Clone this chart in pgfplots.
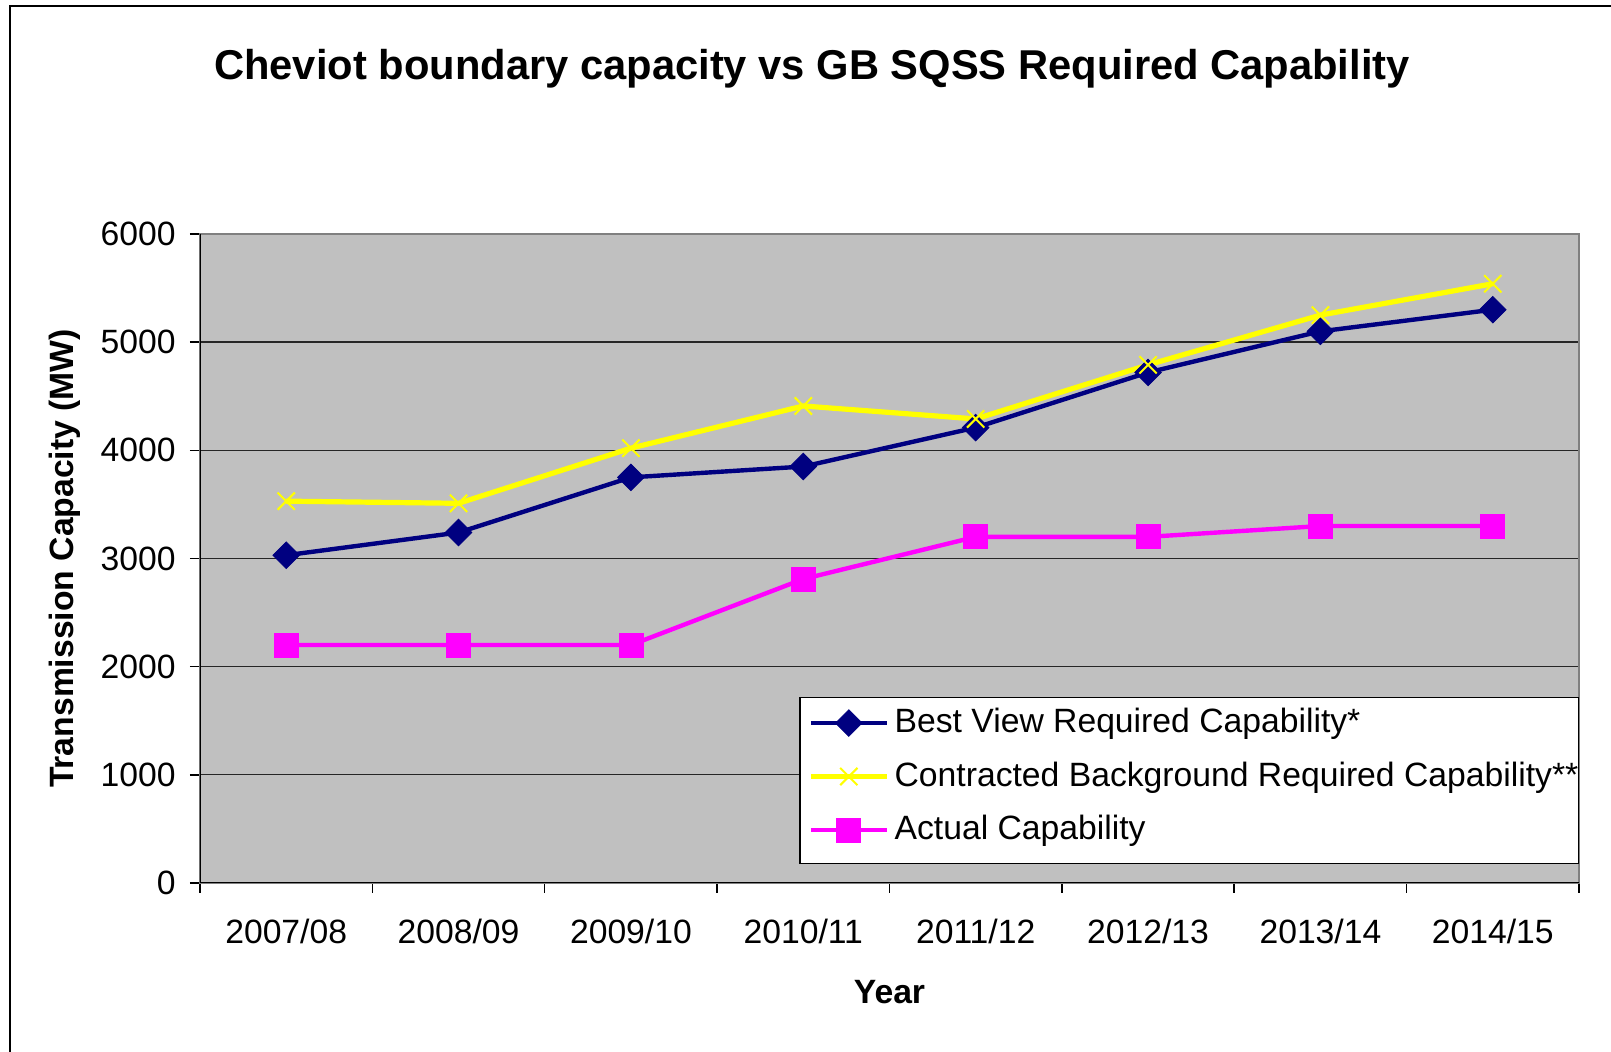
\documentclass[border=0pt]{standalone}
\usepackage{pgfplots}
\pgfplotsset{compat=1.18}
\usepackage{fontspec}
\setmainfont{Liberation Sans}
\definecolor{navyc}{HTML}{000080}
\definecolor{yel}{HTML}{FFFF00}
\definecolor{mag}{HTML}{FF00FF}
\definecolor{plotbg}{HTML}{C0C0C0}
\definecolor{bordergray}{HTML}{808080}
\begin{document}
\begin{tikzpicture}
\path[use as bounding box] (0,0) rectangle (805.5pt,526pt);
\draw[line width=1pt] (5pt,0) -- (5pt,523pt) -- (805.5pt,523pt);
\node[font=\fontsize{20.85}{24}\selectfont\bfseries] at (406pt,491.5pt) {Cheviot boundary capacity vs GB SQSS Required Capability};
\begin{axis}[
  at={(100pt,84.5pt)}, anchor=south west, scale only axis,
  width=689.5pt, height=324.5pt,
  xmin=-0.5, xmax=7.5, ymin=0, ymax=6000,
  xtick={-0.5,0.5,...,7.5},
  x tick label as interval,
  xticklabels={2007/08,2008/09,2009/10,2010/11,2011/12,2012/13,2013/14,2014/15},
  ytick={0,1000,...,6000},
  tick pos=left, tick align=outside,
  major tick length=5pt,
  tick style={black, line width=0.75pt},
  ymajorgrids, grid style={black!85, line width=0.65pt},
  axis background/.style={fill=plotbg},
  axis line style={bordergray, line width=1pt},
  scaled y ticks=false,
  /pgf/number format/assume math mode=true,
  /pgf/number format/1000 sep={},
  tick label style={font=\fontsize{16.85}{20}\selectfont},
  yticklabel style={anchor=east, inner sep=0pt, xshift=-7pt},
  xticklabel style={anchor=north, inner sep=0pt, yshift=-13pt},
  xlabel={Year}, ylabel={Transmission Capacity (MW)},
  every axis x label/.style={at={([yshift=-54.5pt]rel axis cs:0.5,0)}, anchor=center, font=\fontsize{16.85}{20}\selectfont\bfseries},
  every axis y label/.style={at={([xshift=-67.5pt]rel axis cs:0,0.5)}, anchor=center, rotate=90, font=\fontsize{16.85}{20}\selectfont\bfseries},
  legend style={at={([yshift=9.5pt]rel axis cs:1,0)}, anchor=south east,
    draw=black, line width=0.6pt, fill=white,
    font=\fontsize{16.85}{20}\selectfont,
    inner xsep=0pt, inner ysep=5.25pt, row sep=7.95pt,
    nodes={inner xsep=0pt, inner ysep=0pt, text depth=6.6pt}},
  legend cell align=left,
  legend image code/.code={\path (-4.1pt,-7pt) (40.6pt,7pt);\draw[mark repeat=2,mark phase=2,#1] plot coordinates {(0pt,2pt) (19pt,2pt) (38pt,2pt)};},
]
\addplot[navyc, line width=2.2pt, mark=square*, mark size=4.7pt,
  mark options={rotate=45, fill=navyc, draw=navyc, line width=0.4pt}]
  coordinates {(0,3030) (1,3240) (2,3750) (3,3850) (4,4210) (5,4720) (6,5100) (7,5300)};
\addlegendentry{Best View Required Capability*}
\addplot[yel, line width=2.6pt, mark=x, mark size=6.1pt,
  mark options={line width=1pt}]
  coordinates {(0,3530) (1,3510) (2,4020) (3,4410) (4,4290) (5,4790) (6,5250) (7,5540)};
\addlegendentry{Contracted Background Required Capability**}
\addplot[mag, line width=2.2pt, mark=square*, mark size=6pt,
  mark options={fill=mag, draw=mag, line width=0.4pt}]
  coordinates {(0,2200) (1,2200) (2,2200) (3,2810) (4,3200) (5,3200) (6,3300) (7,3300)};
\addlegendentry{Actual Capability}
\draw[black, line width=1pt] (rel axis cs:0,1) -- (rel axis cs:0,0) -- (rel axis cs:1,0);
\end{axis}
\end{tikzpicture}
\end{document}
